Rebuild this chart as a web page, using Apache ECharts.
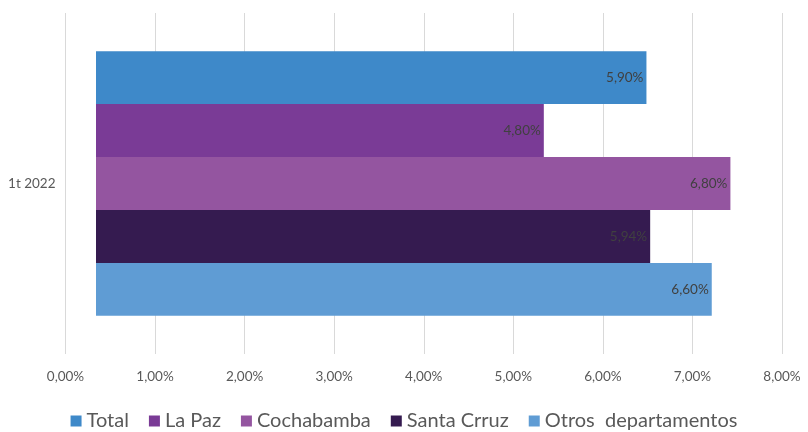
<!DOCTYPE html>
<html><head><meta charset="utf-8">
<script src="https://cdn.jsdelivr.net/npm/echarts@6/dist/echarts.min.js"></script>
<style>html,body{margin:0;padding:0;background:#fff}#c{width:808px;height:432px}</style>
</head><body><div id="c"></div>
<script>
const categories = ['1t 2022'];
const seriesNames = ['Total', 'La Paz', 'Cochabamba', 'Santa Crruz', 'Otros  departamentos'];
const seriesValues = [[5.90], [4.80], [6.80], [5.94], [6.60]];
const seriesColors = ['#3e89c9', '#7a3b96', '#9455a0', '#351b50', '#5f9cd4'];
const tickMin = 0, tickMax = 8, tickStep = 1;

const fmt = v => v.toFixed(2).replace('.', ',') + '%';
const font = 'Lato, "Open Sans", sans-serif';
const chart = echarts.init(document.getElementById('c'));
chart.setOption({
  animation: false,
  legend: {
    top: 406, left: 'center',
    itemWidth: 11, itemHeight: 11, itemGap: 20,
    icon: 'rect',
    textStyle: {fontSize: 20, color: '#595959', fontFamily: font},
    data: seriesNames
  },
  grid: {left: 65.5, right: 26, top: 13, bottom: 78, containLabel: false},
  xAxis: [
    {type: 'value', min: tickMin, max: tickMax, interval: tickStep,
     axisLine: {show: false}, axisTick: {show: false},
     axisLabel: {formatter: fmt, color: '#595959', fontSize: 13.5, fontFamily: font, margin: 16},
     splitLine: {show: true, lineStyle: {color: '#d9d9d9', width: 1}}},
    {type: 'value', min: -0.327, max: 7.353, show: false, splitLine: {show: false}}
  ],
  yAxis: {type: 'category', data: categories, inverse: true,
    axisLine: {show: false}, axisTick: {show: false},
    axisLabel: {color: '#595959', fontSize: 13.5, fontFamily: font, margin: 10}},
  series: seriesNames.map((n, i) => ({
    name: n, type: 'bar', xAxisIndex: 1, data: seriesValues[i],
    barGap: '0%', barCategoryGap: '22.4%',
    itemStyle: {color: seriesColors[i]},
    label: {show: true, position: 'insideRight', distance: 3, formatter: p => fmt(p.value),
      color: '#404040', fontSize: 13.5, fontFamily: font}
  }))
});
</script></body></html>
